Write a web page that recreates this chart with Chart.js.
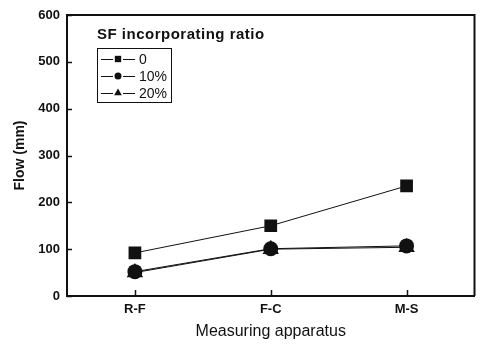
<!DOCTYPE html>
<html>
<head>
<meta charset="utf-8">
<script src="https://cdn.jsdelivr.net/npm/chart.js@4/dist/chart.umd.min.js"></script>
<style>
  html, body { margin: 0; padding: 0; background: #fff; }
  #wrap { width: 484px; height: 345px; }
</style>
</head>
<body>
<div id="wrap"><canvas id="flowChart" width="484" height="345"></canvas></div>
<script>
// ── data ──
const apparatus = ["R-F", "F-C", "M-S"];
const seriesNames = ["0", "10%", "20%"];
const flowSF0  = [92, 150, 235];
const flowSF10 = [52, 101, 107];
const flowSF20 = [50, 100, 104];
const yTicks = [0, 100, 200, 300, 400, 500, 600];

const FONT = "'Liberation Sans', Arial, sans-serif";
const INK = "#111";

// inward tick marks + frame on top/right
const framePlugin = {
  id: "frame",
  afterDraw(chart) {
    const { ctx, chartArea: a, scales } = chart;
    ctx.save();
    ctx.strokeStyle = INK;
    ctx.lineWidth = 2;
    ctx.beginPath();
    ctx.moveTo(a.left, a.top);
    ctx.lineTo(a.right, a.top);
    ctx.lineTo(a.right, a.bottom);
    ctx.stroke();
    ctx.lineWidth = 1.5;
    ctx.beginPath();
    scales.y.ticks.forEach((t, i) => {
      const py = Math.round(scales.y.getPixelForTick(i)) + 0.5;
      ctx.moveTo(a.left, py);
      ctx.lineTo(a.left + 5, py);
    });
    scales.x.ticks.forEach((t, i) => {
      const px = Math.round(scales.x.getPixelForTick(i)) + 0.5;
      ctx.moveTo(px, a.bottom);
      ctx.lineTo(px, a.bottom - 6);
    });
    ctx.stroke();
    ctx.restore();
  }
};

// boxed legend with title, line-marker-line samples
const boxLegend = {
  id: "boxLegend",
  afterDraw(chart) {
    const { ctx, chartArea: a } = chart;
    const x0 = a.left + 30, y0 = a.top + 33;
    ctx.save();
    ctx.fillStyle = INK;
    ctx.font = "bold 15px " + FONT;
    ctx.letterSpacing = "0.5px";
    ctx.textBaseline = "alphabetic";
    ctx.fillText("SF incorporating ratio", x0, a.top + 24);
    ctx.letterSpacing = "0px";

    ctx.strokeStyle = INK;
    ctx.lineWidth = 1;
    ctx.strokeRect(x0 + 0.5, y0 + 0.5, 74, 54);

    ctx.font = "14px " + FONT;
    ctx.textBaseline = "middle";
    const sizes = { rect: 4.5, circle: 3.5, triangle: 4.5 };
    chart.data.datasets.forEach((ds, i) => {
      const cy = y0 + 11 + i * 17;
      ctx.strokeStyle = INK;
      ctx.lineWidth = 1;
      ctx.beginPath();
      ctx.moveTo(x0 + 4, cy + 0.5);
      ctx.lineTo(x0 + 16, cy + 0.5);
      ctx.moveTo(x0 + 26, cy + 0.5);
      ctx.lineTo(x0 + 38, cy + 0.5);
      ctx.stroke();
      ctx.fillStyle = INK;
      Chart.helpers.drawPoint(ctx, {
        pointStyle: ds.pointStyle, radius: sizes[ds.pointStyle], rotation: 0, borderWidth: 0
      }, x0 + 21, cy);
      ctx.fillStyle = INK;
      ctx.fillText(ds.label, x0 + 42, cy + 1);
    });
    ctx.restore();
  }
};

function series(label, values, style, r, order) {
  return {
    label, data: values, order,
    borderColor: INK, borderWidth: 1,
    pointStyle: style, pointRadius: r, pointHoverRadius: r,
    pointBackgroundColor: INK, pointBorderColor: INK, pointBorderWidth: 0,
    tension: 0
  };
}

Chart.defaults.font.family = FONT;
Chart.defaults.color = INK;

new Chart(document.getElementById("flowChart"), {
  type: "line",
  data: {
    labels: apparatus,
    datasets: [
      series(seriesNames[0], flowSF0, "rect", 9, 0),
      series(seriesNames[1], flowSF10, "circle", 7.5, 2),
      series(seriesNames[2], flowSF20, "triangle", 9.5, 1)
    ]
  },
  options: {
    responsive: false,
    animation: false,
    events: [],
    layout: { padding: { top: 15, right: 3, left: 0, bottom: 0 } },
    plugins: { legend: { display: false }, tooltip: { enabled: false } },
    scales: {
      x: {
        offset: true,
        grid: { display: false, drawTicks: false },
        border: { color: INK, width: 2 },
        ticks: { font: { size: 13, weight: "bold" }, padding: 6, color: INK },
        title: { display: true, text: "Measuring apparatus", font: { size: 16 }, padding: { top: 2 } },
        afterFit(s) { s.height = 49; }
      },
      y: {
        min: 0, max: 600,
        afterBuildTicks(s) { s.ticks = yTicks.map(v => ({ value: v })); },
        grid: { display: false, drawTicks: false },
        border: { color: INK, width: 2 },
        ticks: { font: { size: 13, weight: "bold" }, padding: 7, color: INK },
        title: { display: true, text: "Flow (mm)", font: { size: 14, weight: "bold" }, padding: { top: 12, bottom: 0 } },
        afterFit(s) { s.width = 67; }
      }
    }
  },
  plugins: [framePlugin, boxLegend]
});
</script>
</body>
</html>
